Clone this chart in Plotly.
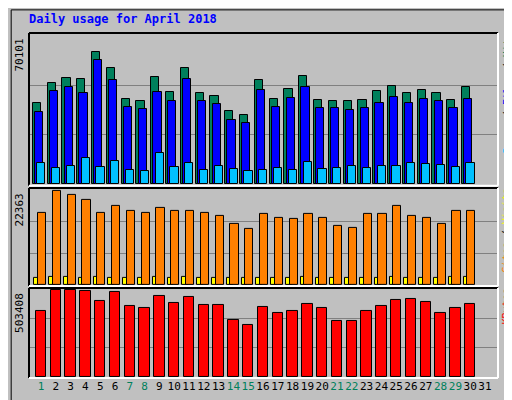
import plotly.graph_objects as go

days = list(range(1, 31))
all_days = list(range(1, 32))
weekend_days = [1, 7, 8, 14, 15, 21, 22, 28, 29]

hits = [38200, 48000, 50100, 49700, 62400, 54800, 40300, 39100, 50500, 43700,
        54800, 43300, 41600, 34400, 32700, 49300, 40300, 45000, 51000, 39900,
        39500, 39100, 39900, 44200, 46300, 43300, 44600, 42900, 39900, 45900]
files = [34300, 44200, 45900, 43300, 58500, 49300, 36400, 35500, 43700, 39100,
         49700, 39100, 37700, 30500, 28800, 44600, 36400, 40700, 45900, 35900,
         35900, 35100, 35900, 38600, 41200, 38600, 40300, 39500, 35900, 40300]
pages = [10200, 7600, 8500, 12400, 8100, 11000, 6800, 6400, 14900, 8100,
         9800, 6800, 8500, 7200, 6400, 6800, 7600, 6800, 10600, 7200,
         7600, 8500, 7600, 8500, 8500, 9800, 9300, 8900, 8100, 9800]
hits_max = 70101

sites = [17000, 22100, 21200, 20000, 17000, 18500, 17500, 17000, 18000, 17500,
         17500, 17000, 16300, 14400, 13200, 16800, 15800, 15600, 16600, 15800,
         13900, 13500, 16600, 16800, 18500, 16100, 15800, 14400, 17300, 17300]
visits = [1700, 1900, 1800, 1700, 1800, 1700, 1700, 1600, 1900, 1700,
          1800, 1700, 1700, 1600, 1500, 1700, 1700, 1600, 1800, 1600,
          1600, 1600, 1700, 1700, 1800, 1700, 1700, 1600, 1800, 1800]
sites_max = 22363

kbytes = [383600, 503400, 503400, 497400, 437500, 491400, 407500, 395500, 467400, 425500,
          461400, 413500, 413500, 329600, 299600, 401500, 371500, 383600, 419500, 395500,
          323600, 323600, 383600, 407500, 443500, 449500, 431500, 371500, 395500, 419500]
kbytes_max = 503408

FONT = "DejaVu Sans Mono"
BG = "#c0c0c0"

fig = go.Figure()

bar_line = dict(color="black", width=1)
fig.add_trace(go.Bar(x=days, y=hits, yaxis="y", offset=-0.55, width=0.55,
                     marker=dict(color="#00805c", line=bar_line)))
fig.add_trace(go.Bar(x=days, y=files, yaxis="y", offset=-0.4, width=0.55,
                     marker=dict(color="#0000ff", line=bar_line)))
fig.add_trace(go.Bar(x=days, y=pages, yaxis="y", offset=-0.25, width=0.55,
                     marker=dict(color="#00c0ff", line=bar_line)))

fig.add_trace(go.Bar(x=days, y=visits, yaxis="y2", offset=-0.45, width=0.4,
                     marker=dict(color="#ffff00", line=bar_line)))
fig.add_trace(go.Bar(x=days, y=sites, yaxis="y2", offset=-0.2, width=0.55,
                     marker=dict(color="#ff8000", line=bar_line)))

fig.add_trace(go.Bar(x=days, y=kbytes, yaxis="y3", offset=-0.35, width=0.7,
                     marker=dict(color="#ff0000", line=bar_line)))

def yax(dom, vmax):
    return dict(domain=dom, range=[-vmax * 0.012, vmax * 1.02],
                tickvals=[vmax / 3, vmax * 2 / 3], showticklabels=False,
                gridcolor="#808080", gridwidth=1, zeroline=False, fixedrange=True)

ticktext = []
for d in all_days:
    c = "#00805c" if d in weekend_days else "black"
    ticktext.append(f'<span style="color:{c}">{d}</span>')

fig.update_layout(
    width=512, height=400,
    paper_bgcolor=BG, plot_bgcolor=BG,
    margin=dict(l=21, r=22, t=25, b=30),
    barmode="overlay", showlegend=False, bargap=0,
    font=dict(family=FONT, size=11, color="black"),
    xaxis=dict(range=[0.19, 31.88], tickvals=all_days, ticktext=ticktext,
               tickangle=0, tickfont=dict(size=11),
               showgrid=False, zeroline=False, ticks="", fixedrange=True,
               anchor="y3"),
    yaxis=yax([0.557, 1.0], hits_max),
    yaxis2=yax([0.267, 0.551], sites_max),
    yaxis3=yax([0.0, 0.261], kbytes_max),
)

# 3D panel borders
for y0, y1 in [(0.557, 1.0), (0.267, 0.551), (0.0, 0.261)]:
    fig.add_shape(type="line", xref="paper", yref="paper", x0=0, x1=1, y0=y1, y1=y1,
                  line=dict(color="black", width=2))
    fig.add_shape(type="line", xref="paper", yref="paper", x0=0, x1=0, y0=y0, y1=y1,
                  line=dict(color="black", width=2))
    fig.add_shape(type="line", xref="paper", yref="paper", x0=1, x1=1, y0=y0, y1=y1,
                  line=dict(color="white", width=2))
    fig.add_shape(type="line", xref="paper", yref="paper", x0=0, x1=1, y0=y0, y1=y0,
                  line=dict(color="white", width=2))

# outer frame
fig.add_shape(type="rect", xref="paper", yref="paper", x0=-0.038, x1=1.04,
              y0=-0.08, y1=1.067, line=dict(color="black", width=1))

fig.add_annotation(text="<b>Daily usage for April 2018</b>", xref="paper", yref="paper",
                   x=-0.005, y=1.04, xanchor="left", yanchor="middle", showarrow=False,
                   font=dict(family=FONT, size=12, color="#0000ff"))

for label, ytop in [(str(hits_max), 1.0), (str(sites_max), 0.551), (str(kbytes_max), 0.261)]:
    fig.add_annotation(text=label, xref="paper", yref="paper", x=-0.002, y=ytop - 0.01,
                       xanchor="right", yanchor="top", textangle=-90, showarrow=False,
                       font=dict(family=FONT, size=11, color="black"))

right_labels = [
    ('<span style="color:#00c0ff">Pages</span> / <span style="color:#0000ff">Files</span>'
     ' / <span style="color:#00805c">Hits</span>', 1.0),
    ('<span style="color:#ff8000">Sites</span> / <span style="color:#ffff00">Visits</span>', 0.551),
    ('<span style="color:#ff0000">KBytes</span>', 0.261),
]
for text, ytop in right_labels:
    fig.add_annotation(text=text, xref="paper", yref="paper", x=1.0, y=ytop,
                       xanchor="left", yanchor="top", xshift=2, textangle=-90,
                       showarrow=False, borderpad=0,
                       font=dict(family=FONT, size=10, color="black"))

fig.write_html("out.html")
